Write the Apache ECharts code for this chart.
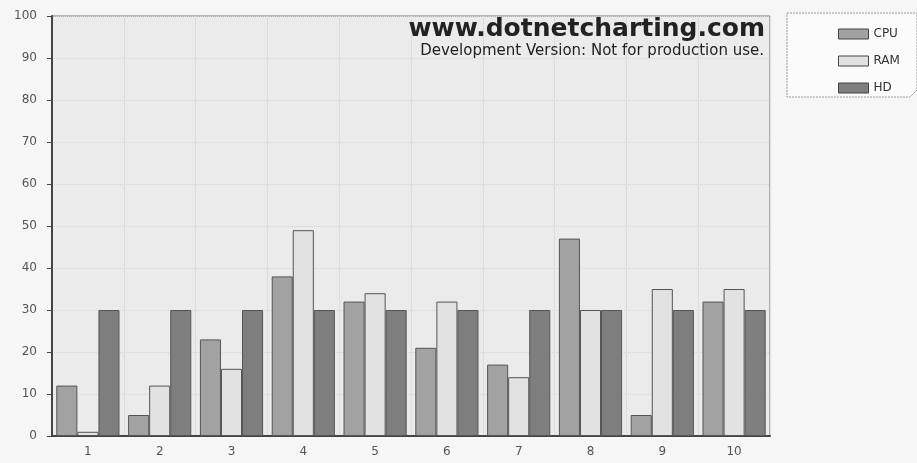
<!DOCTYPE html>
<html>
<head>
<meta charset="utf-8">
<script src="https://cdn.jsdelivr.net/npm/echarts@6/dist/echarts.min.js"></script>
<style>
  html, body { margin: 0; padding: 0; background: #f6f6f6; }
  #chart { width: 917px; height: 463px; }
</style>
</head>
<body>
<div id="chart"></div>
<script>
const categories = ['1', '2', '3', '4', '5', '6', '7', '8', '9', '10'];
const cpu = [12, 5, 23, 38, 32, 21, 17, 47, 5, 32];
const ram = [1, 12, 16, 49, 34, 32, 14, 30, 35, 35];
const hd = [30, 30, 30, 30, 30, 30, 30, 30, 30, 30];
const yTicks = { min: 0, max: 100, interval: 10 };

const chart = echarts.init(document.getElementById('chart'));

function barSeries(name, data, color) {
  return {
    name: name, type: 'bar', data: data,
    barGap: '0%', barCategoryGap: '12%',
    itemStyle: { color: color, borderColor: '#555', borderWidth: 1 }
  };
}

chart.setOption({
  backgroundColor: '#f6f6f6',
  animation: false,
  textStyle: { fontFamily: 'DejaVu Sans, Verdana, sans-serif' },
  title: [{
    text: 'www.dotnetcharting.com',
    right: 152, top: 17, padding: 0,
    textStyle: { fontSize: 25, fontWeight: 'bold', color: '#222' }
  }, {
    text: 'Development Version: Not for production use.',
    right: 153, top: 44, padding: 0,
    textStyle: { fontSize: 15, fontWeight: 'normal', color: '#222' }
  }],
  graphic: [{
    type: 'polyline',
    shape: { points: [[787, 13], [917, 13], [917, 90], [910, 97], [787, 97], [787, 13]] },
    style: { fill: '#fbfbfb', stroke: '#999', lineWidth: 1, lineDash: [2, 1] },
    z: -1
  }],
  legend: {
    orient: 'vertical', left: 833, top: 23,
    itemWidth: 30, itemHeight: 10, itemGap: 15, icon: 'rect',
    textStyle: { fontSize: 12, color: '#333' },
    itemStyle: { borderColor: '#444', borderWidth: 1 },
    data: ['CPU', 'RAM', 'HD']
  },
  grid: {
    left: 52, right: 147, top: 16, bottom: 27,
    show: true, backgroundColor: '#ebebeb', borderColor: '#777', borderWidth: 1
  },
  xAxis: {
    type: 'category', data: categories,
    axisLine: { lineStyle: { color: '#444', width: 2 } },
    axisTick: { alignWithLabel: true, length: 4, lineStyle: { color: '#444' } },
    axisLabel: { fontSize: 12, color: '#555', margin: 10 },
    splitLine: { show: true, interval: 0, lineStyle: { color: '#dcdcdc' } }
  },
  yAxis: {
    type: 'value', min: yTicks.min, max: yTicks.max, interval: yTicks.interval,
    axisLine: { show: true, lineStyle: { color: '#444', width: 2 } },
    axisTick: { show: true, length: 5, lineStyle: { color: '#444' } },
    axisLabel: { fontSize: 12, color: '#555', margin: 15 },
    splitLine: { lineStyle: { color: '#d6d6d6', type: 'dotted' } }
  },
  series: [
    barSeries('CPU', cpu, '#a2a2a2'),
    barSeries('RAM', ram, '#e2e2e2'),
    barSeries('HD', hd, '#7e7e7e')
  ]
});
</script>
</body>
</html>
